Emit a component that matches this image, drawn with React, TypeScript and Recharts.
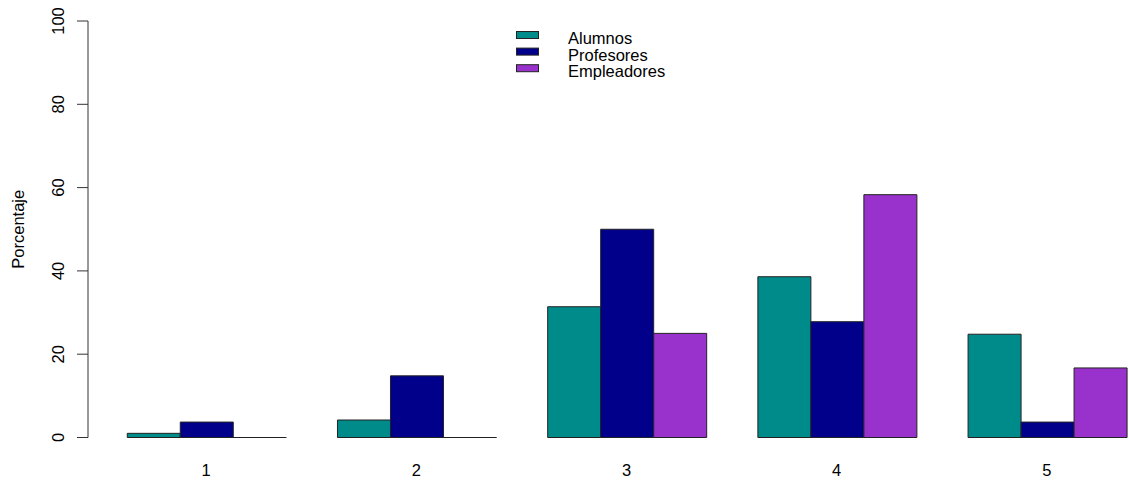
import { BarChart, Bar, XAxis, YAxis, Legend } from 'recharts'

const categories = ['1', '2', '3', '4', '5']
const alumnos = [1.0, 4.2, 31.4, 38.6, 24.8]
const profesores = [3.7, 14.8, 50.0, 27.8, 3.7]
const empleadores = [0, 0, 25.0, 58.3, 16.7]
const yTicks = [0, 20, 40, 60, 80, 100]

const SERIES = [
  { key: 'alumnos', name: 'Alumnos', color: '#008B8B' },
  { key: 'profesores', name: 'Profesores', color: '#00008B' },
  { key: 'empleadores', name: 'Empleadores', color: '#9932CC' },
]

const data = categories.map((cat, i) => ({
  cat,
  alumnos: alumnos[i],
  profesores: profesores[i],
  empleadores: empleadores[i],
}))

const FONT = '"Liberation Sans", Arial, sans-serif'
const FS = 16.5

// zero-height bars still show their outline, like R's barplot
const BarShape = (props: any) => {
  const { x, y, width, height, fill } = props
  const d = `M${x},${y + height} L${x},${y} L${x + width},${y} L${x + width},${y + height} Z`
  return <path d={d} fill={fill} stroke="#222" strokeWidth={1} />
}

const YTick = ({ x, y, payload }: any) => (
  <text
    x={x}
    y={y}
    transform={`rotate(-90, ${x}, ${y})`}
    textAnchor="middle"
    fontSize={FS}
    fontFamily={FONT}
    fill="#000"
  >
    {payload.value}
  </text>
)

const XTick = ({ x, y, payload }: any) => (
  <text x={x} y={y} textAnchor="middle" fontSize={FS} fontFamily={FONT} fill="#000">
    {payload.value}
  </text>
)

const YLabel = ({ viewBox }: any) => {
  const lx = viewBox.x + 24
  const ly = viewBox.y + viewBox.height / 2
  return (
    <text
      x={lx}
      y={ly}
      transform={`rotate(-90, ${lx}, ${ly})`}
      textAnchor="middle"
      fontSize={FS}
      fontFamily={FONT}
      fill="#000"
    >
      Porcentaje
    </text>
  )
}

const LegendContent = () => (
  <svg width={200} height={66} style={{ display: 'block', overflow: 'visible' }}>
    {SERIES.map((s, i) => (
      <g key={s.key}>
        <rect x={0.5} y={5.5 + i * 16.6} width={22} height={7} fill={s.color} stroke="#222" />
        <text x={52} y={18 + i * 16.6} fontSize={FS} fontFamily={FONT} fill="#000">
          {s.name}
        </text>
      </g>
    ))}
  </svg>
)

export default function App() {
  return (
    <div
      style={{
        position: 'absolute',
        left: 0,
        top: 0,
        width: 1129,
        height: 484,
        overflow: 'hidden',
        background: '#fff',
      }}
    >
      <BarChart
        width={1152}
        height={484}
        data={data}
        margin={{ top: 21, right: 0, bottom: 0, left: 0 }}
        barCategoryGap="12.5%"
        barGap={0}
      >
        <XAxis
          dataKey="cat"
          axisLine={false}
          tickLine={false}
          tickSize={0}
          tickMargin={38}
          height={46.5}
          padding={{ left: 13, right: 0 }}
          tick={<XTick />}
          interval={0}
        />
        <YAxis
          width={88}
          domain={[0, 100]}
          ticks={yTicks}
          tickSize={11}
          tickMargin={13}
          axisLine={{ stroke: '#333' }}
          tickLine={{ stroke: '#333' }}
          tick={<YTick />}
          label={<YLabel />}
          interval={0}
        />
        <Legend
          layout="horizontal"
          verticalAlign="middle"
          align="center"
          content={<LegendContent />}
          wrapperStyle={{ position: 'absolute', left: 516, top: 26, width: 200, height: 66 }}
        />
        {SERIES.map((s) => (
          <Bar
            key={s.key}
            dataKey={s.key}
            name={s.name}
            fill={s.color}
            shape={<BarShape />}
            isAnimationActive={false}
          />
        ))}
      </BarChart>
    </div>
  )
}
